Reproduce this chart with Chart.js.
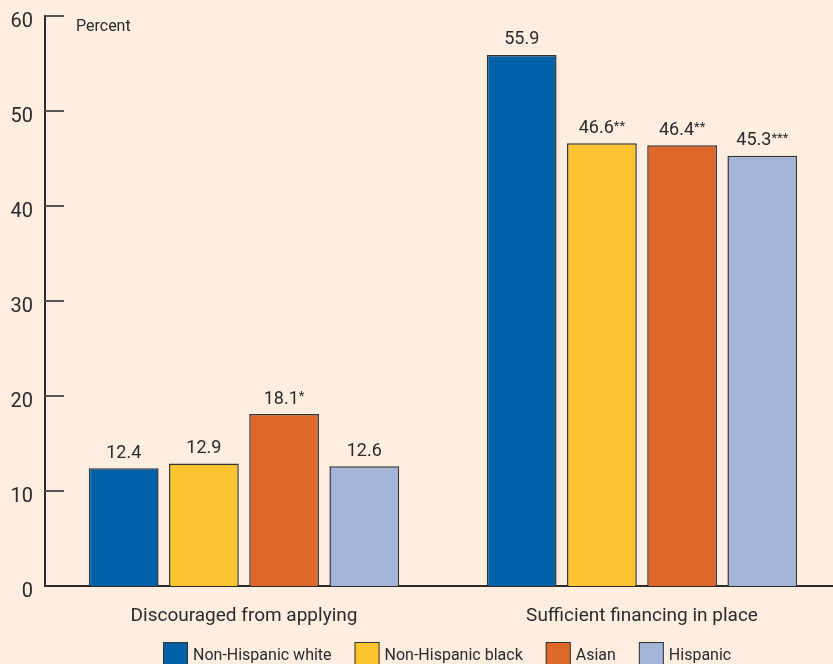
<!DOCTYPE html>
<html>
<head>
<meta charset="utf-8">
<script src="https://cdn.jsdelivr.net/npm/chart.js@4"></script>
<style>
html, body { margin: 0; padding: 0; background: #fdeee0; overflow: hidden; }
#wrap { width: 841px; height: 664px; position: relative; }
</style>
</head>
<body>
<div id="wrap"><canvas id="chart"></canvas></div>
<script>
const categories = ['Discouraged from applying', 'Sufficient financing in place'];
const groups = ['Non-Hispanic white', 'Non-Hispanic black', 'Asian', 'Hispanic'];
const whiteValues = [12.4, 55.9];
const blackValues = [12.9, 46.6];
const asianValues = [18.1, 46.4];
const hispanicValues = [12.6, 45.3];
// significance markers printed after the values
const whiteMarks = ['', ''];
const blackMarks = ['', '**'];
const asianMarks = ['*', '**'];
const hispanicMarks = ['', '***'];
const yTicks = [0, 10, 20, 30, 40, 50, 60];

const colors = ['#0061a6', '#fec42f', '#e0672a', '#a3b4d8'];
const FONT = 'Roboto, "Liberation Sans", sans-serif';
const INK = '#2b2b2b';

const allValues = [whiteValues, blackValues, asianValues, hispanicValues];
const allMarks = [whiteMarks, blackMarks, asianMarks, hispanicMarks];

// tick marks inside the axis, value labels, the "Percent" title and the legend
const decorations = {
    id: 'decorations',
    afterDatasetsDraw(chart) {
        const ctx = chart.ctx;
        const area = chart.chartArea;
        const y = chart.scales.y;
        ctx.save();

        // inward tick marks (0 sits on the x axis)
        ctx.strokeStyle = '#555';
        ctx.lineWidth = 2;
        yTicks.filter(v => v > 0).forEach(v => {
            const py = Math.round(y.getPixelForValue(v));
            ctx.beginPath();
            ctx.moveTo(area.left, py);
            ctx.lineTo(area.left + 19, py);
            ctx.stroke();
        });

        // "Percent"
        ctx.fillStyle = INK;
        ctx.font = '16px ' + FONT;
        ctx.textAlign = 'left';
        ctx.textBaseline = 'middle';
        ctx.fillText('Percent', area.left + 31, y.getPixelForValue(58.8));

        // value labels
        chart.data.datasets.forEach((ds, i) => {
            const meta = chart.getDatasetMeta(i);
            meta.data.forEach((bar, j) => {
                const num = ds.data[j].toFixed(1);
                const mark = allMarks[i][j];
                ctx.font = '18px ' + FONT;
                const wNum = ctx.measureText(num).width;
                ctx.font = '13px ' + FONT;
                const wMark = mark ? ctx.measureText(mark).width : 0;
                const x0 = bar.x - (wNum + wMark) / 2;
                const ty = bar.y - 15;
                ctx.textAlign = 'left';
                ctx.textBaseline = 'middle';
                ctx.font = '18px ' + FONT;
                ctx.fillText(num, x0, ty);
                if (mark) {
                    ctx.font = '13px ' + FONT;
                    ctx.fillText(mark, x0 + wNum, ty - 2);
                }
            });
        });

        // legend
        let lx = 163;
        const boxTop = 642;
        ctx.font = '16px ' + FONT;
        chart.data.datasets.forEach(ds => {
            ctx.fillStyle = ds.backgroundColor;
            ctx.fillRect(lx, boxTop, 25, 26);
            ctx.strokeStyle = '#333';
            ctx.lineWidth = 1;
            ctx.strokeRect(lx + 0.5, boxTop + 0.5, 24, 26);
            ctx.fillStyle = INK;
            ctx.textAlign = 'left';
            ctx.textBaseline = 'middle';
            ctx.fillText(ds.label, lx + 30, 656);
            lx += 30 + ctx.measureText(ds.label).width + 23;
        });
        ctx.restore();
    }
};

const datasets = groups.map((g, i) => ({
    label: g,
    data: allValues[i],
    backgroundColor: colors[i],
    borderColor: '#333',
    borderWidth: 1.5,
    borderSkipped: 'bottom',
    barPercentage: 0.87,
    categoryPercentage: 0.806
}));

new Chart(document.getElementById('chart'), {
    type: 'bar',
    data: { labels: categories, datasets: datasets },
    options: {
        responsive: true,
        maintainAspectRatio: false,
        animation: false,
        layout: { padding: { top: 16, right: 0, left: 0, bottom: 0 } },
        plugins: { legend: { display: false }, tooltip: { enabled: false } },
        scales: {
            x: {
                grid: { display: false, drawTicks: false },
                border: { display: true, color: INK, width: 2 },
                ticks: { color: INK, font: { family: FONT, size: 19 }, padding: 19 },
                afterFit(scale) { scale.height = 78; scale.paddingLeft = 0; scale.paddingRight = 0; }
            },
            y: {
                min: 0,
                max: 60,
                afterBuildTicks(scale) { scale.ticks = yTicks.map(v => ({ value: v })); },
                grid: { display: false, drawTicks: false },
                border: { display: true, color: INK, width: 2 },
                ticks: { color: INK, font: { family: FONT, size: 20 }, padding: 12, labelOffset: 6 },
                afterFit(scale) { scale.width = 45; scale.paddingTop = 0; scale.paddingBottom = 0; }
            }
        }
    },
    plugins: [decorations]
});
</script>
</body>
</html>
